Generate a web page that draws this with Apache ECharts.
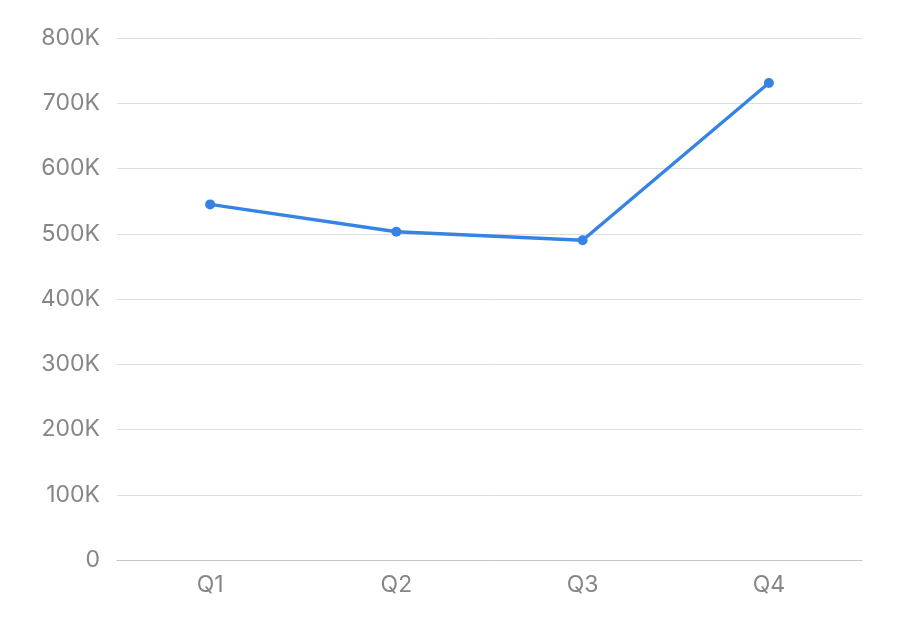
<!DOCTYPE html>
<html>
<head>
<meta charset="utf-8">
<script src="https://cdn.jsdelivr.net/npm/echarts@6/dist/echarts.min.js"></script>
<style>
  html, body { margin: 0; padding: 0; background: #fff; }
  #chart { width: 900px; height: 642px; }
</style>
</head>
<body>
<div id="chart"></div>
<script>
// quarters on the x axis
const quarters = ['Q1', 'Q2', 'Q3', 'Q4'];
// values
const values = [545000, 503000, 490000, 731000];

const chart = echarts.init(document.getElementById('chart'));
chart.setOption({
  animation: false,
  grid: { left: 117, right: 38, top: 38, bottom: 82 },
  xAxis: {
    type: 'category',
    data: quarters,
    axisTick: { show: false },
    axisLine: { lineStyle: { color: '#c4c4c4', width: 1 } },
    axisLabel: {
      color: '#868686',
      fontSize: 23,
      fontFamily: 'Inter, Roboto, sans-serif',
      margin: 14
    }
  },
  yAxis: {
    type: 'value',
    min: 0,
    max: 800000,
    interval: 100000,
    axisLine: { show: false },
    axisTick: { show: false },
    splitLine: { lineStyle: { color: '#dedede', width: 1 } },
    axisLabel: {
      color: '#868686',
      fontSize: 23,
      fontFamily: 'Inter, Roboto, sans-serif',
      margin: 17,
      formatter: v => v === 0 ? '0' : (v / 1000) + 'K'
    }
  },
  series: [{
    type: 'line',
    data: values,
    symbol: 'circle',
    symbolSize: 10,
    lineStyle: { color: '#3584e4', width: 3.4 },
    itemStyle: { color: '#3584e4' }
  }]
});
</script>
</body>
</html>
